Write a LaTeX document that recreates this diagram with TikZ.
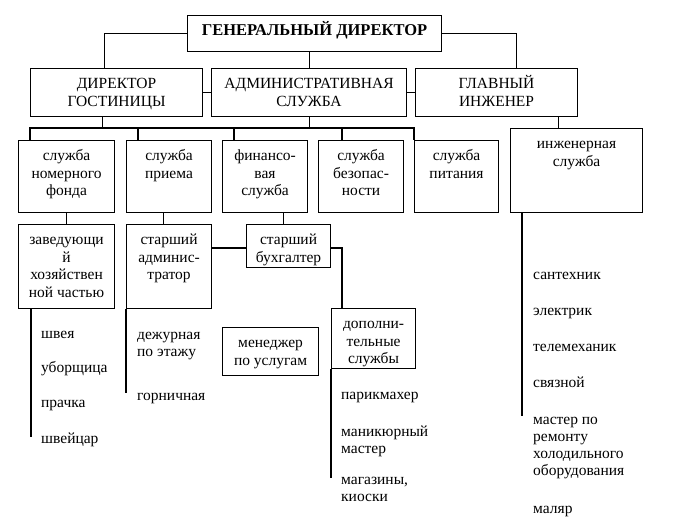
\documentclass[tikz,border=0pt]{standalone}
\usepackage{fontspec}
\setmainfont{Liberation Serif}
\tikzset{
  box/.style={draw, line width=1.1pt, inner sep=0pt, anchor=north west,
    font=\fontsize{15.5}{17.7}\selectfont},
  item/.style={inner sep=0pt, anchor=base west, align=left,
    font=\fontsize{15.5}{17}\selectfont},
  conn/.style={line width=1.1pt},
}
\newcommand\bx[6]{\node[box] (#1) at (#2,#3)
  {\parbox[t][\dimexpr#5pt-#3pt\relax][t]{\dimexpr#4pt-#2pt\relax}{\centering\rule{0pt}{20pt}#6}};}
\begin{document}
\begin{tikzpicture}[x=1pt,y=-1pt]
\fill[white] (0,0) rectangle (685,527);
\useasboundingbox (0,0) rectangle (685,527);
% boxes
\bx{gd}{187}{15}{441}{51}{\fontsize{16.5}{18}\selectfont\bfseries ГЕНЕРАЛЬНЫЙ ДИРЕКТОР}
\bx{dir}{30}{68}{202}{116}{ДИРЕКТОР\\ГОСТИНИЦЫ}
\bx{adm}{211}{68}{406}{116}{АДМИНИСТРАТИВНАЯ\\СЛУЖБА}
\bx{glav}{415}{68}{577}{116}{ГЛАВНЫЙ\\ИНЖЕНЕР}
\bx{fond}{18}{140}{114}{212}{служба\\номерного\\фонда}
\bx{pri}{126}{140}{211}{212}{служба\\приема}
\bx{fin}{222}{140}{307}{212}{финансо-\\вая\\служба}
\bx{bez}{318}{140}{403}{212}{служба\\безопас-\\ности}
\bx{pit}{414}{140}{498}{212}{служба\\питания}
\bx{inzh}{510}{128}{642}{212}{инженерная\\служба}
\bx{zav}{18}{224}{114}{308}{заведующи\\й\\хозяйствен\\ной частью}
\bx{stadm}{126}{224}{211}{308}{старший\\админис-\\тратор}
\bx{buh}{246}{224}{330}{267}{старший\\бухгалтер}
\bx{men}{222}{327}{318}{375}{менеджер\\по услугам}
\bx{dop}{331}{308}{415}{368}{дополни-\\тельные\\службы}
% coordinates
\coordinate (bus) at (0,128);
\coordinate (hb) at (0,248);
\coordinate (busR) at (414,128);
% connectors
\draw[conn] (gd.west) -| ([xshift=-12pt]dir.north);
\draw[conn] (gd.east) -| ([xshift=20pt]glav.north);
\draw[conn] (adm.north) -- (adm.north |- gd.south);
\draw[conn] (dir.east) -- (adm.west);
\draw[conn] (adm.east) -- (glav.west);
\draw[conn] ([xshift=-14pt]dir.south) -- ([xshift=-14pt]dir.south |- bus);
\draw[conn] (adm.south) -- (adm.south |- bus);
\draw[conn] ([xshift=12pt]fond.north west) |- (busR) -- (pit.north west);
\draw[conn] ([xshift=12pt]pri.north west) -- ([xshift=12pt]pri.north west |- bus);
\draw[conn] ([xshift=12pt]fin.north west) -- ([xshift=12pt]fin.north west |- bus);
\draw[conn] ([xshift=24pt]bez.north west) -- ([xshift=24pt]bez.north west |- bus);
\draw[conn] ([xshift=62pt]glav.south) -- ([xshift=62pt]glav.south |- inzh.north);
\draw[conn] (fond.south) -- (zav.north);
\draw[conn] ([xshift=-5.5pt]pri.south) -- ([xshift=-5.5pt]stadm.north);
\draw[conn] ([xshift=18.5pt]fin.south) -- ([xshift=18.5pt]fin.south |- buh.north);
\draw[conn] (stadm.east |- hb) -- (buh.west |- hb);
\draw[conn] (buh.east |- hb) -| ([xshift=11pt]dop.north west);
% list lines
\draw[conn] ([xshift=13pt]zav.south west) -- ++(0,128);
\draw[conn] (stadm.south west) -- ++(0,84);
\draw[conn] (dop.south west) -- ++(0,109);
\draw[conn] ([xshift=12pt]inzh.south west) -- ++(0,203);
% list items (anchor = baseline of last line)
\node[item] (i1) at (41,338) {швея};
\node[item] (i2) at (41,372) {уборщица};
\node[item] (i3) at (41,407) {прачка};
\node[item] (i4) at (41,443) {швейцар};
\node[item] (i5) at (137,356) {дежурная\\по этажу};
\node[item] (i6) at (137,400) {горничная};
\node[item] (i7) at (341,399) {парикмахер};
\node[item] (i8) at (341,453) {маникюрный\\мастер};
\node[item] (i9) at (341,501) {магазины,\\киоски};
\node[item] (j1) at (533,279) {сантехник};
\node[item] (j2) at (533,315) {электрик};
\node[item] (j3) at (533,351) {телемеханик};
\node[item] (j4) at (533,387) {связной};
\node[item] (j5) at (533,475) {мастер по\\ремонту\\холодильного\\оборудования};
\node[item] (j6) at (533,513) {маляр};
\end{tikzpicture}
\end{document}
